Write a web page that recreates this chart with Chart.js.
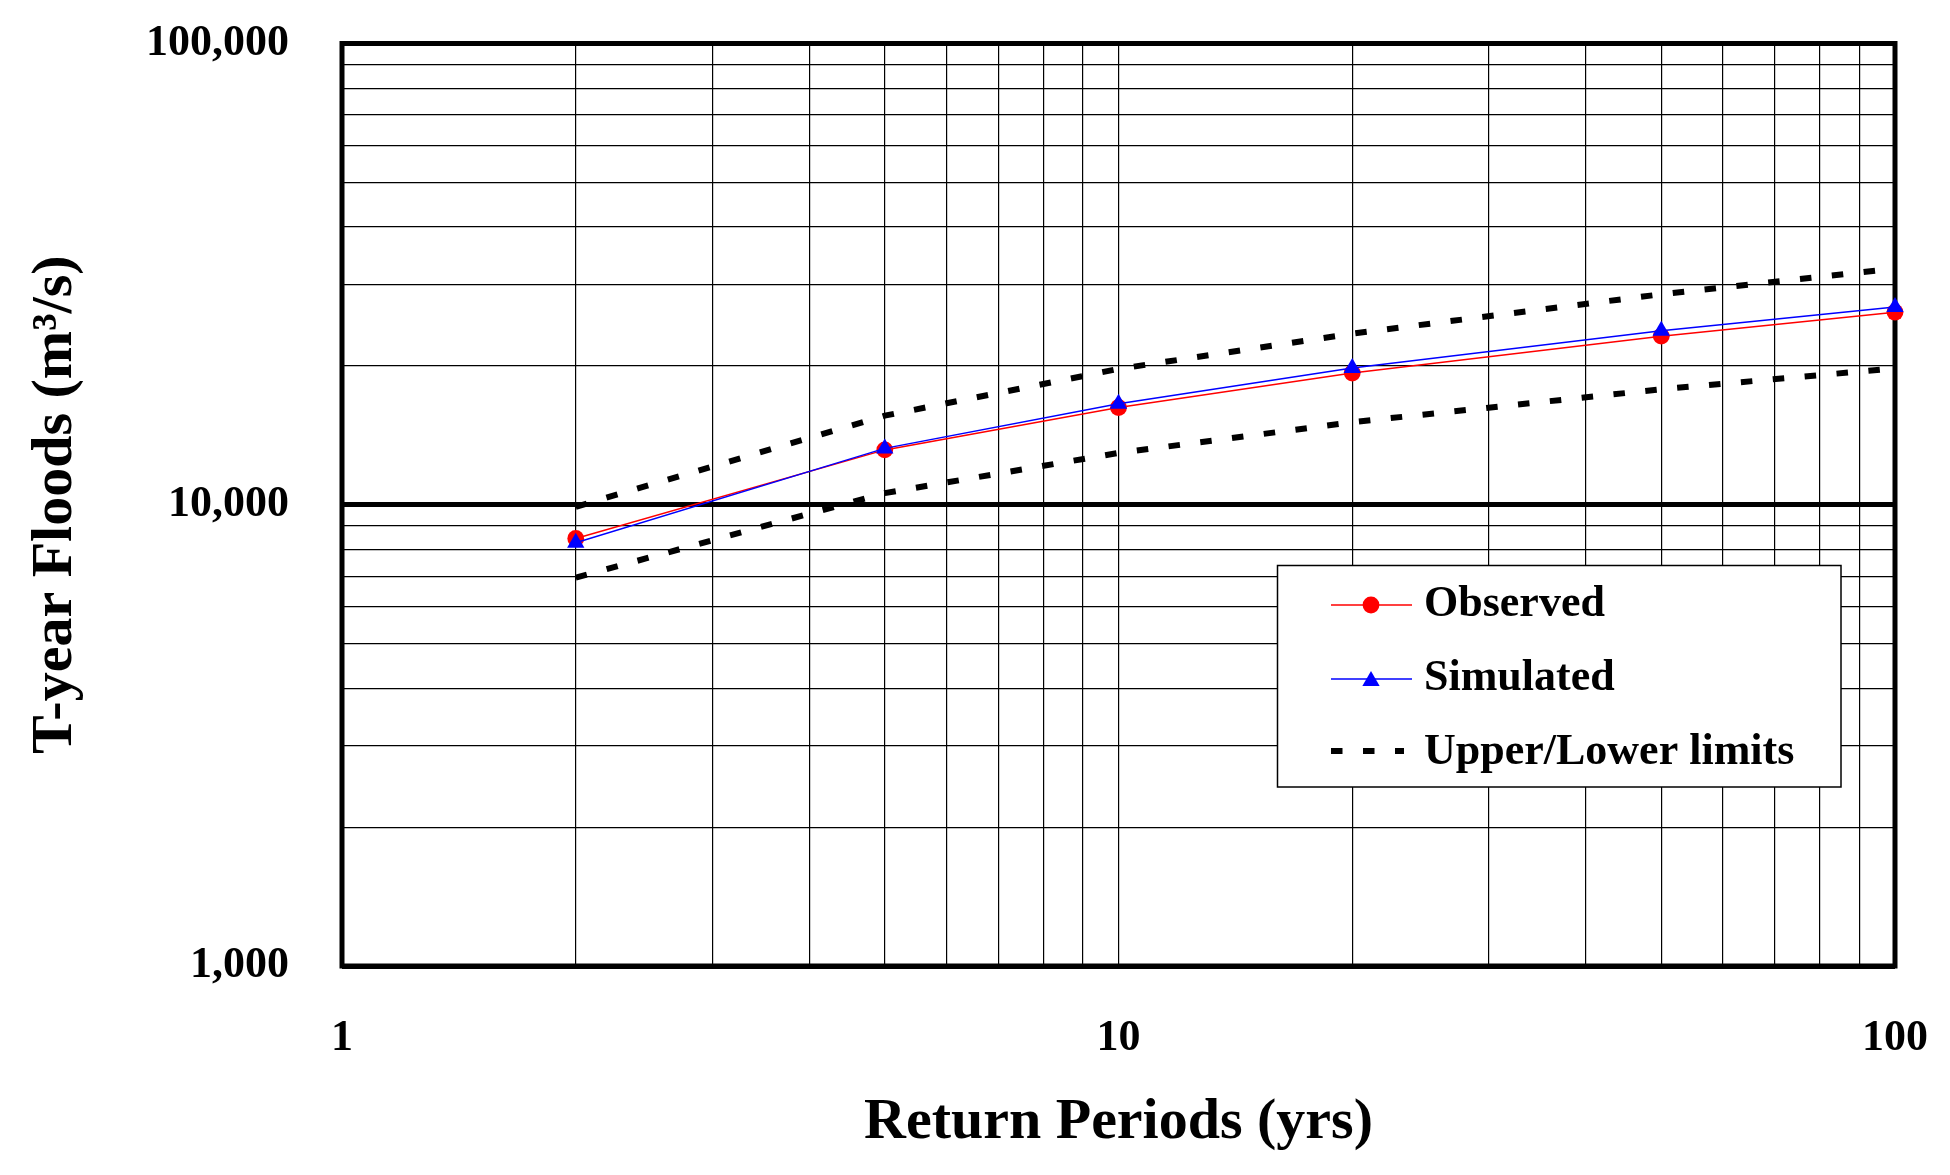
<!DOCTYPE html>
<html>
<head>
<meta charset="utf-8">
<script src="https://cdn.jsdelivr.net/npm/chart.js@4/dist/chart.umd.min.js"></script>
<style>
  body { margin: 0; background: #fff; }
</style>
</head>
<body>
<canvas id="floodChart" width="1950" height="1175"></canvas>
<script>
// Return periods (yrs) and T-year floods (m3/s)
const returnPeriods = [2, 5, 10, 20, 50, 100];
const observed = [8450, 13150, 16250, 19300, 23200, 26150];
const simulated = [8270, 13250, 16550, 19800, 23850, 26850];
const upperLimit = [9900, 15600, 19700, 23500, 28600, 32500];
const lowerLimit = [6950, 10600, 12950, 15100, 17800, 19750];

const xTickLabels = [1, 10, 100];
const yTickLabels = [1000, 10000, 100000];

const FONT = "'Liberation Serif', 'Times New Roman', serif";

const toPoints = (ys) => returnPeriods.map((t, i) => ({ x: t, y: ys[i] }));
const isLabelTick = (v, list) => list.some(t => Math.abs(v - t) < t * 1e-6);

// keep only 1..9 x 10^n gridlines (drop the 1.5 style ones)
const wholeTicks = (s) => {
  s.ticks = s.ticks.filter(t => {
    const e = Math.floor(Math.log10(t.value) + 1e-9);
    const m = t.value / Math.pow(10, e);
    return Math.abs(m - Math.round(m)) < 1e-6;
  });
};

// frame round the plot area
const framePlugin = {
  id: 'frame',
  beforeDatasetsDraw(chart) {
    const { ctx, chartArea: a } = chart;
    ctx.save();
    ctx.lineWidth = 5;
    ctx.strokeStyle = '#000';
    ctx.strokeRect(a.left, a.top, a.right - a.left, a.bottom - a.top);
    ctx.restore();
  }
};

// legend box inside the plot
const legendPlugin = {
  id: 'boxLegend',
  afterDraw(chart) {
    const ctx = chart.ctx;
    ctx.save();
    ctx.fillStyle = '#fff';
    ctx.fillRect(1277.5, 565.5, 563.5, 221.5);
    ctx.lineWidth = 1.5;
    ctx.strokeStyle = '#000';
    ctx.strokeRect(1277.5, 565.5, 563.5, 221.5);

    // Observed
    ctx.lineWidth = 1.5;
    ctx.strokeStyle = 'red';
    ctx.beginPath(); ctx.moveTo(1331, 605); ctx.lineTo(1412, 605); ctx.stroke();
    ctx.fillStyle = 'red';
    ctx.beginPath(); ctx.arc(1371, 605, 8.4, 0, Math.PI * 2); ctx.fill();

    // Simulated
    ctx.strokeStyle = 'blue';
    ctx.beginPath(); ctx.moveTo(1331, 679); ctx.lineTo(1412, 679); ctx.stroke();
    ctx.fillStyle = 'blue';
    const r = 10;
    ctx.beginPath();
    ctx.moveTo(1371, 681 - r);
    ctx.lineTo(1371 + r * Math.sin(Math.PI * 2 / 3), 681 + r / 2);
    ctx.lineTo(1371 - r * Math.sin(Math.PI * 2 / 3), 681 + r / 2);
    ctx.closePath(); ctx.fill();

    // Upper/Lower limits
    ctx.strokeStyle = '#000';
    ctx.lineWidth = 6;
    ctx.setLineDash([11.5, 20.5]);
    ctx.beginPath(); ctx.moveTo(1331, 751); ctx.lineTo(1404, 751); ctx.stroke();
    ctx.setLineDash([]);

    ctx.fillStyle = '#000';
    ctx.font = 'bold 44px ' + FONT;
    ctx.textBaseline = 'middle';
    ctx.textAlign = 'left';
    ctx.fillText('Observed', 1424, 605);
    ctx.fillText('Simulated', 1424, 679);
    ctx.fillText('Upper/Lower limits', 1424, 753);
    ctx.restore();
  }
};

const config = {
  type: 'line',
  data: {
    datasets: [
      {
        label: 'Simulated',
        data: toPoints(simulated),
        borderColor: 'blue',
        backgroundColor: 'blue',
        borderWidth: 1.5,
        pointStyle: 'triangle',
        pointRadius: 10,
        pointBorderWidth: 0,
        pointHoverRadius: 10
      },
      {
        label: 'Observed',
        data: toPoints(observed),
        borderColor: 'red',
        backgroundColor: 'red',
        borderWidth: 1.5,
        pointStyle: 'circle',
        pointRadius: 8.4,
        pointBorderWidth: 0,
        pointHoverRadius: 8.4
      },
      {
        label: 'Upper limit',
        data: toPoints(upperLimit),
        borderColor: '#000',
        borderWidth: 6,
        borderDash: [11.5, 20.5],
        pointRadius: 0
      },
      {
        label: 'Lower limit',
        data: toPoints(lowerLimit),
        borderColor: '#000',
        borderWidth: 6,
        borderDash: [11.5, 20.5],
        pointRadius: 0
      }
    ]
  },
  options: {
    responsive: false,
    animation: false,
    devicePixelRatio: 1,
    clip: false,
    layout: { padding: { top: 43.5, right: 55, left: 0, bottom: 0 } },
    elements: { line: { tension: 0, fill: false } },
    plugins: {
      legend: { display: false },
      tooltip: { enabled: false }
    },
    scales: {
      x: {
        type: 'logarithmic',
        min: 1,
        max: 100,
        afterBuildTicks: wholeTicks,
        afterFit: (s) => { s.height = 209; s.paddingLeft = 0; s.paddingRight = 0; },
        border: { display: false },
        grid: { color: '#000', lineWidth: 1.2, drawTicks: false },
        ticks: {
          autoSkip: false,
          maxRotation: 0,
          padding: 46,
          color: '#000',
          font: { family: FONT, size: 44, weight: 'bold' },
          callback: (v) => isLabelTick(v, xTickLabels) ? String(Math.round(v)) : ''
        },
        title: {
          display: true,
          text: 'Return Periods (yrs)',
          color: '#000',
          font: { family: FONT, size: 58, weight: 'bold' },
          padding: { top: 0, bottom: 17 }
        }
      },
      y: {
        type: 'logarithmic',
        min: 1000,
        max: 100000,
        afterBuildTicks: wholeTicks,
        afterFit: (s) => { s.width = 342; s.paddingTop = 0; s.paddingBottom = 0; },
        border: { display: false },
        grid: {
          color: '#000',
          drawTicks: false,
          lineWidth: (c) => (c.tick && isLabelTick(c.tick.value, yTickLabels)) ? 5 : 1.2
        },
        ticks: {
          autoSkip: false,
          padding: 53,
          color: '#000',
          font: { family: FONT, size: 44, weight: 'bold' },
          callback: (v) => isLabelTick(v, yTickLabels) ? Math.round(v).toLocaleString('en-US') : ''
        },
        title: {
          display: true,
          text: 'T-year Floods (m³/s)',
          color: '#000',
          font: { family: FONT, size: 58, weight: 'bold' },
          padding: { top: 21, bottom: 0 }
        }
      }
    }
  },
  plugins: [framePlugin, legendPlugin]
};

var floodChart = new Chart(document.getElementById('floodChart'), config);
</script>
</body>
</html>
